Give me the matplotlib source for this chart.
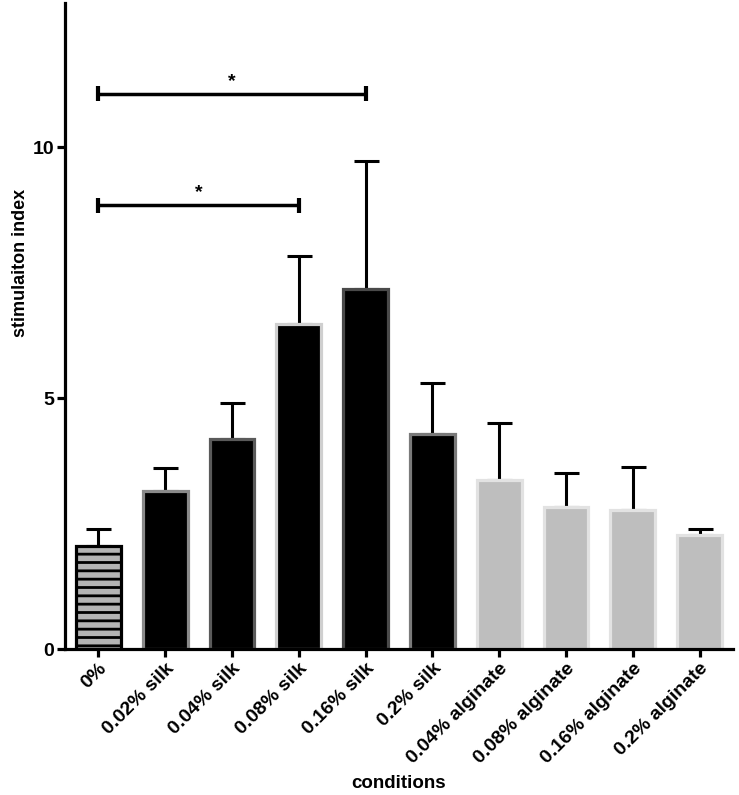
import matplotlib
matplotlib.use("Agg")
import matplotlib.pyplot as plt
import numpy as np

plt.rcParams['font.family'] = ['Liberation Sans', 'DejaVu Sans']
plt.rcParams['font.weight'] = 'bold'
plt.rcParams['hatch.linewidth'] = 2.0

categories = ["0%", "0.02% silk", "0.04% silk", "0.08% silk", "0.16% silk", "0.2% silk",
              "0.04% alginate", "0.08% alginate", "0.16% alginate", "0.2% alginate"]
means = [2.05, 3.15, 4.18, 6.47, 7.17, 4.28, 3.37, 2.82, 2.77, 2.27]
errors = [0.35, 0.45, 0.72, 1.35, 2.55, 1.02, 1.13, 0.69, 0.86, 0.13]

# significance brackets: (from index, to index, height)
sig_from = [0, 0]
sig_to = [3, 4]
sig_height = [8.84, 11.06]
sig_label = ["*", "*"]

face_colors = ["#b4b4b4", "#000000", "#000000", "#000000", "#000000", "#000000",
               "#bebebe", "#bebebe", "#bebebe", "#bebebe"]
edge_colors = ["#000000", "#8a8a8a", "#5a5a5a", "#cfcfcf", "#4a4a4a", "#7a7a7a",
               "#e2e2e2", "#e2e2e2", "#e2e2e2", "#e2e2e2"]

fig = plt.figure(figsize=(7.39, 7.95), dpi=100)
ax = fig.add_axes([65/739, 1-649/795, (733-65)/739, (649-3)/795])

x = np.arange(len(categories))
bars = ax.bar(x, means, width=0.67, color=face_colors, edgecolor=edge_colors,
              linewidth=2.3, zorder=2)
bars[0].set_hatch('--')

ax.errorbar(x, means, yerr=[np.zeros(len(errors)), errors], fmt='none',
            ecolor='black', elinewidth=2.2, capsize=9, capthick=2.2, zorder=1)

for f, t, h, lab in zip(sig_from, sig_to, sig_height, sig_label):
    ax.plot([f, t], [h, h], color='black', lw=2.5, solid_capstyle='butt', zorder=3)
    ax.plot([f, f], [h - 0.15, h + 0.15], color='black', lw=3, solid_capstyle='butt', zorder=3)
    ax.plot([t, t], [h - 0.15, h + 0.15], color='black', lw=3, solid_capstyle='butt', zorder=3)
    ax.text((f + t) / 2, h + 0.08, lab, ha='center', va='bottom', fontsize=14, fontweight='bold')

ax.set_xlim(-0.5, 9.5)
ax.set_ylim(0, 12.87)
ax.set_yticks([0, 5, 10])
ax.set_xticks(x)
ax.set_xticklabels(categories, rotation=45, ha='right', rotation_mode='anchor', fontsize=14, fontweight='bold')
for lab in ax.get_yticklabels():
    lab.set_fontsize(14)
    lab.set_fontweight('bold')

for s in ['top', 'right']:
    ax.spines[s].set_visible(False)
for s in ['left', 'bottom']:
    ax.spines[s].set_linewidth(2.3)
ax.tick_params(axis='both', width=2.3, length=6, pad=2)

ax.set_xlabel("conditions", fontsize=13.5, fontweight='bold')
ax.xaxis.set_label_coords(0.5, -(783 - 649) / 646, transform=ax.transAxes)
ax.xaxis.label.set_va('center')
ax.set_ylabel("stimulaiton index", fontsize=13, fontweight='bold')
ax.yaxis.set_label_coords((21 - 65) / 668, (649 - 263) / 646)
ax.yaxis.label.set_va('center')

fig.savefig("out.png", dpi=100)
